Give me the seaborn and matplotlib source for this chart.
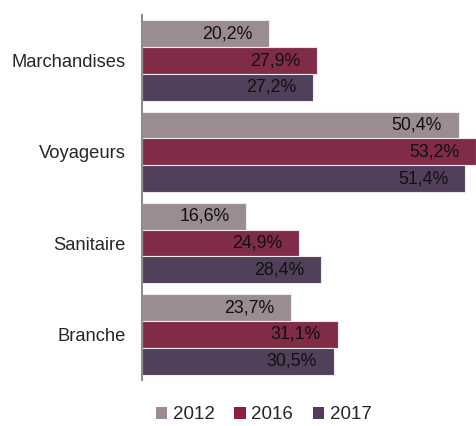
import pandas as pd
import seaborn as sns
import matplotlib.pyplot as plt
from matplotlib.patches import Patch

categories = ["Marchandises", "Voyageurs", "Sanitaire", "Branche"]
years = ["2012", "2016", "2017"]
values_2012 = [20.2, 50.4, 16.6, 23.7]
values_2016 = [27.9, 53.2, 24.9, 31.1]
values_2017 = [27.2, 51.4, 28.4, 30.5]
colors = ["#9E8A93", "#8E1E42", "#543B5E"]

# long form table for seaborn
rows = []
for year, vals in zip(years, [values_2012, values_2016, values_2017]):
    for cat, v in zip(categories, vals):
        rows.append({"categorie": cat, "annee": year, "valeur": v})
df = pd.DataFrame(rows)

sns.set_style("white")
plt.rcParams['font.family'] = ['Liberation Sans', 'DejaVu Sans']

fig = plt.figure(figsize=(4.77, 4.26), dpi=100)
ax = fig.add_axes([0.298, 0.108, 0.702, 0.857])

sns.barplot(data=df, y="categorie", x="valeur", hue="annee", orient="h",
            palette=colors, width=0.88, ax=ax, legend=False,
            edgecolor="#EDEAEC", linewidth=0.8)

# value labels inside the bars, near the end
for container in ax.containers:
    for p in container:
        w = p.get_width()
        label = f"{w:.1f}".replace(".", ",") + "%"
        ax.annotate(label, (w, p.get_y() + p.get_height() / 2),
                    xytext=(-12, 0), textcoords="offset points",
                    ha="right", va="center", fontsize=12.8, color="#111111")

ax.set_xlim(0, 53.3)
ax.set_ylim(3.5, -0.5)
ax.set_xlabel("")
ax.set_ylabel("")
ax.set_xticks([])
ax.tick_params(axis="y", length=0, pad=12, labelsize=13.2)
for s in ["top", "right", "bottom"]:
    ax.spines[s].set_visible(False)
ax.spines["left"].set_color("#8C8C8C")
ax.spines["left"].set_linewidth(1.5)

handles = [Patch(facecolor=c, edgecolor="none") for c in colors]
fig.legend(handles, years, loc="center", bbox_to_anchor=(0.553, 0.026),
           ncol=3, frameon=False, fontsize=13.5, handlelength=0.6,
           handleheight=0.6, handletextpad=0.3, columnspacing=1.05)

fig.savefig("out.png", dpi=100)
